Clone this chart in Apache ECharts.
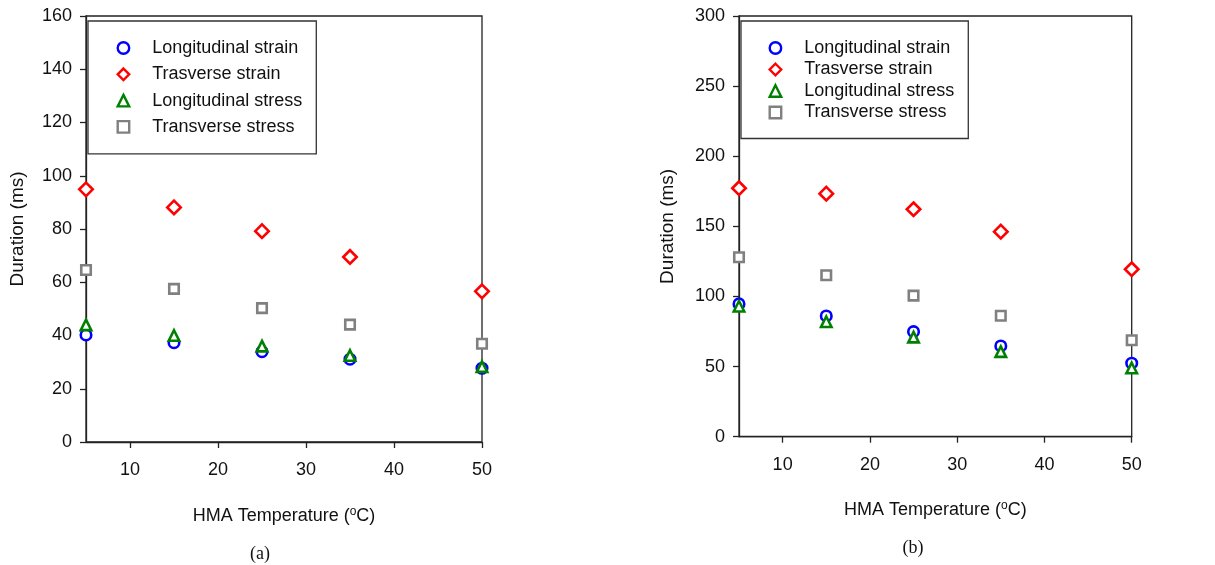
<!DOCTYPE html>
<html>
<head>
<meta charset="utf-8">
<script src="https://cdn.jsdelivr.net/npm/echarts@6/dist/echarts.min.js"></script>
<style>
html,body{margin:0;padding:0;background:#fff;}
#chart{width:1215px;height:565px;}
</style>
</head>
<body>
<div id="chart"></div>
<script>
// Data
const temperatures = [5, 15, 25, 35, 50];
const seriesNames = ['Longitudinal strain', 'Trasverse strain', 'Longitudinal stress', 'Transverse stress'];

// Panel (a)
const aLongStrain = [40.2, 37.3, 33.9, 31.1, 27.7];
const aTransStrain = [94.9, 88.1, 79.2, 69.5, 56.6];
const aLongStress = [44.0, 40.0, 36.0, 32.5, 28.3];
const aTransStress = [64.6, 57.5, 50.3, 44.1, 36.9];

// Panel (b)
const bLongStrain = [94.7, 86.1, 74.9, 64.7, 52.4];
const bTransStrain = [177.2, 173.3, 162.2, 146.2, 119.4];
const bLongStress = [93.0, 82.0, 71.0, 60.7, 49.0];
const bTransStress = [128.0, 115.1, 100.6, 86.3, 68.8];

const xTicks = [10, 20, 30, 40, 50];
const aYMax = 160, aYStep = 20;
const bYMax = 300, bYStep = 50;

const styles = [
  {symbol: 'circle', size: 10.5, color: '#0000ff'},
  {symbol: 'diamond', size: 13.5, color: '#ff0000'},
  {symbol: 'triangle', size: 10.5, color: '#008000'},
  {symbol: 'rect', size: 9.5, color: '#808080'}
];

const pair = arr => temperatures.map((t, i) => [t, arr[i]]);
const AX = '#222';
const FONT = 'Liberation Sans, Arial, sans-serif';

function mkSeries(name, data, idx, st) {
  return {
    name: name, type: 'scatter', xAxisIndex: idx, yAxisIndex: idx,
    data: pair(data), symbol: st.symbol, symbolSize: st.size, clip: false,
    itemStyle: {color: '#ffffff', borderColor: st.color, borderWidth: 2.6, opacity: 1},
    emphasis: {disabled: true}, z: 5
  };
}

const aData = [aLongStrain, aTransStrain, aLongStress, aTransStress];
const bData = [bLongStrain, bTransStrain, bLongStress, bTransStress];
const series = [];
seriesNames.forEach((n, i) => series.push(mkSeries(n, aData[i], 0, styles[i])));
seriesNames.forEach((n, i) => series.push(mkSeries(n, bData[i], 1, styles[i])));

function xAx(gi, gap) {
  return {
    type: 'value', gridIndex: gi, min: 5, max: 50,
    name: 'HMA Temperature ({sup|o}C)', nameLocation: 'middle', nameGap: gap,
    nameTextStyle: {color: '#111', fontSize: 18, fontFamily: FONT,
      rich: {sup: {fontSize: 12, fontFamily: FONT, color: '#111', padding: [0, 0, 9, 0]}}},
    axisLine: {show: true, onZero: false, lineStyle: {color: AX, width: 1.3}},
    axisTick: {show: true, inside: false, length: 6, customValues: xTicks, lineStyle: {color: AX, width: 1.3}},
    axisLabel: {customValues: xTicks, margin: 19, color: '#111', fontSize: 18, fontFamily: FONT},
    splitLine: {show: false}
  };
}
function yAx(gi, max, step, gap) {
  return {
    type: 'value', gridIndex: gi, min: 0, max: max, interval: step,
    name: 'Duration (ms)', nameLocation: 'middle', nameGap: gap,
    nameTextStyle: {color: '#111', fontSize: 19, fontFamily: FONT},
    axisLine: {show: true, onZero: false, lineStyle: {color: AX, width: 1.3}},
    axisTick: {show: true, inside: false, length: 6, lineStyle: {color: AX, width: 1.3}},
    axisLabel: {margin: 14, color: '#111', fontSize: 18, fontFamily: FONT},
    splitLine: {show: false}
  };
}
function legend(left, top, gap, padTop, padLeft, padBottom) {
  return {
    data: seriesNames.map((n, i) => ({name: n, icon: styles[i].symbol})),
    orient: 'vertical', left: left, top: top,
    itemWidth: 11.5, itemHeight: 11.5, itemGap: gap, selectedMode: false,
    padding: [padTop, 14, padBottom, padLeft],
    borderColor: '#333', borderWidth: 1.3, backgroundColor: '#fff',
    itemStyle: {borderWidth: 2.4},
    textStyle: {fontSize: 18, fontFamily: FONT, color: '#111', lineHeight: 20, padding: [0, 0, 0, 18]},
    z: 10
  };
}

const chart = echarts.init(document.getElementById('chart'), null, {renderer: 'canvas'});
chart.setOption({
  backgroundColor: '#fff',
  animation: false,
  title: [
    {text: '(a)', left: 260, top: 545, textAlign: 'center',
     textStyle: {fontFamily: 'Liberation Serif, Times New Roman, serif', fontWeight: 'normal', fontSize: 18, color: '#111'}, padding: 0},
    {text: '(b)', left: 913, top: 539, textAlign: 'center',
     textStyle: {fontFamily: 'Liberation Serif, Times New Roman, serif', fontWeight: 'normal', fontSize: 18, color: '#111'}, padding: 0}
  ],
  grid: [
    {left: 86, top: 16, width: 396, height: 426, show: true, borderColor: AX, borderWidth: 1.3, backgroundColor: 'transparent'},
    {left: 739, top: 16, width: 392.7, height: 420.7, show: true, borderColor: AX, borderWidth: 1.3, backgroundColor: 'transparent'}
  ],
  xAxis: [xAx(0, 64), xAx(1, 63)],
  yAxis: [yAx(0, aYMax, aYStep, 59), yAx(1, bYMax, bYStep, 62)],
  legend: [
    legend(88, 21, 6.3, 17, 28.5, 17),
    legend(741, 21, 1.5, 17, 27.5, 16)
  ],
  series: series
});
</script>
</body>
</html>
